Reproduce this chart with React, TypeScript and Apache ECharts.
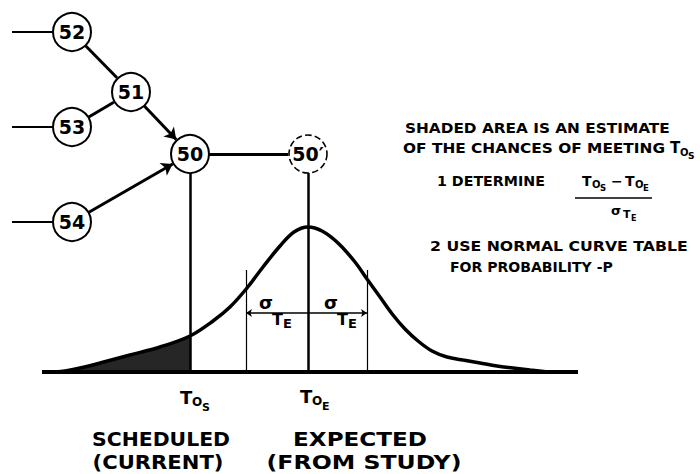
import React, { useEffect, useRef } from "react";
import * as echarts from "echarts";

// ---- Network nodes (diagram units: x to the right, y = height above the time axis) ----
const nodeNames = ["52", "51", "53", "50", "50′", "54"];
const nodeX = [72, 131, 72, 190, 308, 72];
const nodeY = [340, 280, 245, 218, 218, 150];
const nodeDashed = [false, false, false, false, true, false];
const nodeRadius = 19;

// incoming stubs from the left
const stubNodes = ["52", "53", "54"];
const stubStartX = 12;

// edges
const edgeFrom = ["52", "53", "51", "54", "50"];
const edgeTo = ["51", "51", "50", "50", "50′"];
const edgeArrow = [false, false, true, true, false];

// ---- Distribution curve ----
const curveX = [55, 65, 80, 100, 130, 160, 190, 213, 230, 247, 263, 280, 294, 308, 322, 338, 355, 367, 380, 393, 405, 418, 432, 447, 463, 480, 497, 513, 530, 548];
const curveH = [0, 1, 4, 9, 17, 25, 36, 51, 65, 84, 105, 126, 140, 145, 141, 129, 110, 93, 75, 57, 43, 31, 21, 15, 12, 9, 6, 4, 2, 0];

const axisStartX = 42;
const axisEndX = 578;
const TOS = 190; // scheduled
const TOE = 308; // expected
const sigmaLeft = 246;
const sigmaRight = 367;
const sigmaLineTop = 102;
const sigmaDimH = 59;

const FONT = "DejaVu Sans";

let measureCtx: CanvasRenderingContext2D | null = null;
function measure(text: string, size: number) {
  if (!measureCtx) {
    const c = document.createElement("canvas");
    measureCtx = c.getContext("2d");
  }
  if (!measureCtx) return 0;
  measureCtx.font = `bold ${size}px "${FONT}"`;
  return measureCtx.measureText(text).width;
}

function txt(text: string, x: number, y: number, size: number, align: string = "left", target: number = 0) {
  let scaleX = 1;
  if (target > 0) {
    const w = measure(text, size);
    if (w > 0) scaleX = Math.max(0.8, Math.min(1.3, target / w));
  }
  return {
    type: "text",
    x,
    y,
    scaleX,
    silent: true,
    z: 100,
    style: {
      text,
      fontSize: size,
      fontWeight: "bold",
      fontFamily: FONT,
      fill: "#000",
      align,
      verticalAlign: "middle",
    },
  };
}

function nodeIdx(n: string) {
  return nodeNames.indexOf(n);
}

function App() {
  const ref = useRef<HTMLDivElement>(null);

  useEffect(() => {
    if (!ref.current) return;
    const chart = echarts.init(ref.current, null, { renderer: "svg" });

    const curveData = curveX.map((x, i) => [x, curveH[i]]);
    const shadedData = curveData.filter((p) => p[0] <= TOS);

    const stubLines = stubNodes.map((n) => {
      const i = nodeIdx(n);
      return { coords: [[stubStartX, nodeY[i]], [nodeX[i] - nodeRadius, nodeY[i]]] };
    });

    const plainEdges: any[] = [];
    const arrowEdges: any[] = [];
    edgeFrom.forEach((f, k) => {
      const a = nodeIdx(f);
      const b = nodeIdx(edgeTo[k]);
      const dx = nodeX[b] - nodeX[a];
      const dy = nodeY[b] - nodeY[a];
      const len = Math.sqrt(dx * dx + dy * dy);
      const ux = dx / len;
      const uy = dy / len;
      const item = {
        coords: [
          [nodeX[a] + ux * nodeRadius, nodeY[a] + uy * nodeRadius],
          [nodeX[b] - ux * (nodeRadius + 1), nodeY[b] - uy * (nodeRadius + 1)],
        ],
      };
      (edgeArrow[k] ? arrowEdges : plainEdges).push(item);
    });

    const i50 = nodeIdx("50");
    const i50p = nodeIdx("50′");
    const dropLines = [
      { coords: [[TOS, nodeY[i50] - nodeRadius], [TOS, 0]] },
      { coords: [[TOE, nodeY[i50p] - nodeRadius], [TOE, 0]] },
    ];
    const sigmaLines = [
      { coords: [[sigmaLeft, sigmaLineTop], [sigmaLeft, 0]] },
      { coords: [[sigmaRight, sigmaLineTop], [sigmaRight, 0]] },
    ];
    const dimLines = [
      { coords: [[TOE, sigmaDimH], [sigmaLeft, sigmaDimH]] },
      { coords: [[TOE, sigmaDimH], [sigmaRight, sigmaDimH]] },
    ];

    const lineSeries = (name: string, data: any[], width: number, symbol: any = "none", symbolSize: any = 0, z = 3) => ({
      type: "lines",
      name,
      coordinateSystem: "cartesian2d",
      data,
      symbol,
      symbolSize,
      z,
      silent: true,
      lineStyle: { color: "#000", width, opacity: 1, curveness: 0 },
    });

    const graphic: any[] = [
      // right-hand notes
      txt("SHADED AREA IS AN ESTIMATE", 405, 128, 14.5, "left", 265),
      txt("OF THE CHANCES OF MEETING", 403, 148, 14.5, "left", 262),
      txt("T", 670, 148, 15),
      txt("O", 680, 152, 10),
      txt("S", 688, 156, 9),
      txt("1 DETERMINE", 437, 181, 14.5, "left", 108),
      txt("T", 582, 181, 14),
      txt("O", 592, 184, 10),
      txt("S", 600, 188, 8.5),
      txt("−", 611, 181, 14),
      txt("T", 625, 181, 14),
      txt("O", 635, 184, 10),
      txt("E", 643, 188, 8.5),
      {
        type: "line",
        silent: true,
        z: 100,
        shape: { x1: 575, y1: 198, x2: 652, y2: 198 },
        style: { stroke: "#000", lineWidth: 1.6 },
      },
      txt("σ", 611, 210, 13),
      txt("T", 623, 214, 11),
      txt("E", 631, 218, 8),
      txt("2 USE NORMAL CURVE TABLE", 430, 246, 14.5, "left", 258),
      txt("FOR PROBABILITY -P", 450, 267, 14.5, "left", 163),
      // sigma labels
      txt("σ", 259, 302, 18),
      txt("T", 272, 319, 16),
      txt("E", 283, 323, 13),
      txt("σ", 324, 302, 18),
      txt("T", 337, 319, 16),
      txt("E", 348, 323, 13),
      // time labels
      txt("T", 180, 397, 18),
      txt("O", 192, 402, 12),
      txt("S", 202, 407, 11),
      txt("T", 300, 396, 18),
      txt("O", 312, 401, 12),
      txt("E", 322, 406, 11),
      // captions
      txt("SCHEDULED", 161, 439, 20, "center", 138),
      txt("(CURRENT)", 158, 462, 20, "center", 131),
      txt("EXPECTED", 360, 439, 20, "center", 134),
      txt("(FROM STUDY)", 364, 462, 20, "center", 195),
    ];

    chart.setOption({
      animation: false,
      backgroundColor: "#fff",
      grid: { left: 0, right: 0, top: 0, bottom: 0 },
      xAxis: { type: "value", min: 0, max: 700, show: false },
      yAxis: { type: "value", min: -102, max: 372, show: false },
      series: [
        {
          type: "line",
          name: "shaded",
          data: shadedData,
          smooth: 0.35,
          symbol: "none",
          silent: true,
          z: 1,
          lineStyle: { width: 0 },
          areaStyle: { color: "#262626", opacity: 1 },
        },
        {
          type: "line",
          name: "curve",
          data: curveData,
          smooth: 0.35,
          symbol: "none",
          silent: true,
          z: 2,
          lineStyle: { color: "#000", width: 3.5 },
        },
        lineSeries("axis", [{ coords: [[axisStartX, 0], [axisEndX, 0]] }], 4),
        lineSeries("drop", dropLines, 2.5),
        lineSeries("sigma", sigmaLines, 1.2),
        lineSeries("dim", dimLines, 1.5, ["none", "arrow"], 6),
        lineSeries("stubs", stubLines, 2),
        lineSeries("edges", plainEdges, 3),
        lineSeries("arrows", arrowEdges, 3, ["none", "arrow"], 11),
        {
          type: "scatter",
          name: "nodes",
          z: 10,
          silent: true,
          symbol: "circle",
          symbolSize: nodeRadius * 2,
          itemStyle: { color: "#fff", borderColor: "#000", borderWidth: 2, opacity: 1 },
          label: {
            show: true,
            position: "inside",
            formatter: "{b}",
            fontSize: 19,
            fontWeight: "bold",
            fontFamily: FONT,
            color: "#000",
          },
          data: nodeNames.map((n, i) => ({
            name: n,
            value: [nodeX[i], nodeY[i]],
            itemStyle: nodeDashed[i] ? { borderType: "dashed", borderWidth: 1.6 } : undefined,
          })),
        },
      ],
      graphic,
    });

    return () => chart.dispose();
  }, []);

  return (
    <div
      ref={ref}
      style={{ position: "absolute", left: 0, top: 0, width: 700, height: 474, background: "#fff" }}
    />
  );
}

export default App;
